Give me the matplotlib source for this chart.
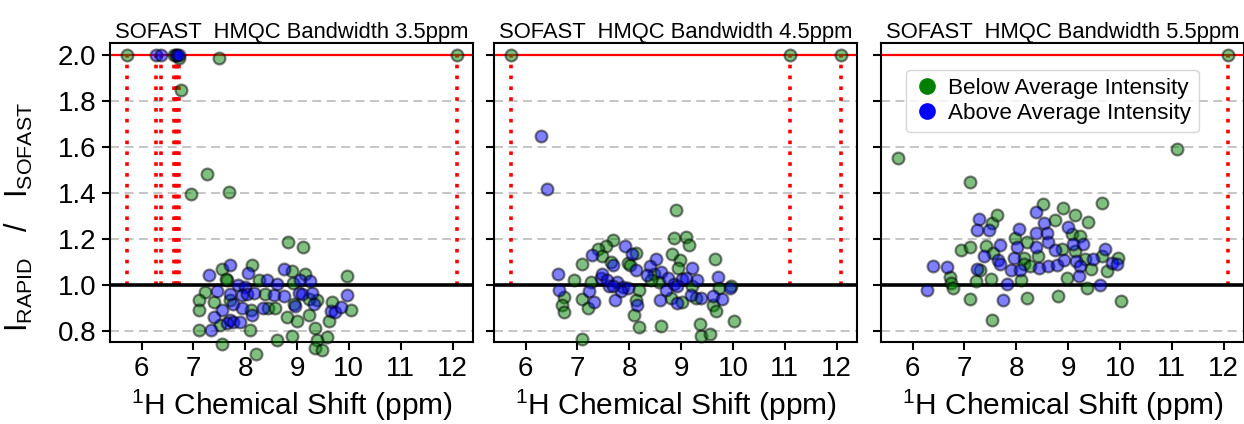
# import library
import numpy as np
import matplotlib.pyplot as plt
from matplotlib.lines import Line2D

plt.rcParams['font.family'] = ['Liberation Sans', 'DejaVu Sans']
plt.rcParams['mathtext.fontset'] = 'custom'
plt.rcParams['mathtext.rm'] = 'Liberation Sans'
plt.rcParams['mathtext.it'] = 'Liberation Sans'

# Data (ratios above 2 are shown capped at 2.0)
titles = ["SOFAST  HMQC Bandwidth 3.5ppm",
          "SOFAST  HMQC Bandwidth 4.5ppm",
          "SOFAST  HMQC Bandwidth 5.5ppm"]

# 3.5 ppm
below_x_35 = [7.56, 8.13, 7.65, 8.90, 9.16, 9.97, 8.26, 8.92, 7.23, 7.10, 7.10, 7.39, 7.70,
              8.39, 9.39, 9.23, 8.94, 9.68, 10.05, 8.11, 8.43, 8.58, 7.52, 8.81, 9.00, 9.23,
              9.61, 7.10, 8.10, 9.35, 7.55, 8.61, 8.90, 9.58, 9.39, 9.35, 9.48, 8.21, 9.11,
              7.62, 7.27, 6.95, 7.69, 8.83, 6.77, 6.73, 7.50, 5.71, 6.62, 12.09]
below_y_35 = [1.072, 1.087, 1.025, 1.062, 1.048, 1.039, 1.025, 1.010, 0.971, 0.935, 0.891, 0.928, 0.935,
              0.961, 0.935, 0.942, 0.920, 0.928, 0.894, 0.891, 0.903, 0.903, 0.826, 0.862, 0.845, 0.870,
              0.845, 0.804, 0.807, 0.812, 0.743, 0.764, 0.778, 0.775, 0.761, 0.729, 0.720, 0.700, 1.168,
              1.026, 1.485, 1.396, 1.404, 1.190, 1.850, 1.987, 1.990, 2.0, 2.0, 2.0]
above_x_35 = [7.70, 8.06, 7.31, 8.75, 9.06, 9.25, 8.42, 8.61, 7.87, 8.00, 7.45, 7.77, 7.94,
              8.03, 8.16, 8.55, 8.74, 9.03, 9.10, 9.29, 8.97, 9.32, 9.65, 9.74, 9.97, 9.84,
              7.94, 8.13, 8.35, 7.55, 7.39, 7.70, 7.65, 7.77, 7.90, 7.34, 7.71,
              6.28, 6.38, 6.66, 6.69, 6.72]
above_y_35 = [1.087, 1.054, 1.043, 1.072, 1.022, 1.019, 1.022, 1.007, 1.000, 0.993, 0.975, 0.917, 0.957,
              0.964, 0.967, 0.957, 0.952, 0.967, 0.964, 0.967, 0.909, 0.917, 0.887, 0.884, 0.957, 0.906,
              0.903, 0.870, 0.899, 0.891, 0.862, 0.848, 0.836, 0.841, 0.841, 0.804, 0.964,
              2.0, 2.0, 2.0, 2.0, 2.0]

# 4.5 ppm
below_x_45 = [7.69, 7.55, 7.39, 7.08, 7.48, 7.65, 8.13, 7.97, 8.01, 8.87, 9.10, 9.15, 8.83,
              8.98, 8.95, 9.66, 6.94, 7.26, 8.19, 8.48, 8.57, 9.21, 9.28, 9.97, 9.74, 6.75,
              6.70, 6.75, 7.08, 7.21, 8.13, 8.10, 8.19, 8.81, 9.02, 9.61, 9.68, 8.61, 9.37,
              9.39, 9.56, 10.03, 7.08, 8.42, 8.91, 5.72, 11.11, 12.08]
below_y_45 = [1.196, 1.170, 1.159, 1.094, 1.126, 1.101, 1.141, 1.097, 1.087, 1.207, 1.210, 1.174, 1.135,
              1.109, 1.075, 1.112, 1.025, 1.014, 0.978, 1.051, 1.014, 0.996, 0.946, 0.996, 0.986, 0.949,
              0.913, 0.884, 0.942, 0.899, 0.935, 0.870, 0.819, 0.946, 0.928, 0.913, 0.888, 0.822, 0.833,
              0.778, 0.790, 0.845, 0.768, 1.025, 1.326, 2.0, 2.0, 2.0]
above_x_45 = [7.28, 7.69, 7.92, 8.06, 8.13, 8.52, 8.40, 9.21, 9.71, 6.63, 7.45, 7.47, 7.61,
              7.77, 7.87, 7.97, 7.84, 8.35, 8.61, 8.74, 8.71, 8.87, 8.92, 9.02, 9.10, 9.30,
              9.19, 9.39, 9.61, 9.79, 9.95, 6.65, 7.23, 7.32, 7.73, 8.14, 8.59, 8.92, 7.58,
              7.69, 6.29, 6.41]
above_y_45 = [1.130, 1.087, 1.170, 1.138, 1.065, 1.116, 1.083, 1.075, 1.036, 1.048, 1.033, 1.051, 0.996,
              1.014, 0.993, 0.986, 0.975, 1.043, 1.058, 1.033, 0.978, 1.007, 0.996, 1.029, 1.033, 1.022,
              0.957, 0.946, 0.952, 0.942, 0.986, 0.981, 0.975, 0.928, 0.935, 0.913, 0.938, 0.923, 1.025,
              0.996, 1.649, 1.417]

# 5.5 ppm
below_x_55 = [6.72, 6.75, 6.77, 6.94, 7.11, 7.11, 7.54, 7.63, 7.42, 7.31, 7.22, 7.51, 7.56,
              7.98, 8.14, 8.14, 8.10, 8.20, 8.20, 8.26, 8.41, 8.51, 8.75, 8.90, 8.81, 8.88,
              8.97, 9.07, 9.13, 9.23, 9.13, 9.33, 9.39, 9.44, 9.37, 9.65, 9.65, 9.75, 9.97,
              10.03, 7.54, 5.71, 11.10, 7.11, 12.08]
below_y_55 = [1.036, 1.010, 0.988, 1.152, 1.167, 0.941, 1.271, 1.307, 1.170, 1.065, 1.017, 1.027, 1.140,
              1.204, 1.118, 1.094, 1.024, 1.190, 0.945, 1.082, 1.128, 1.355, 1.285, 1.338, 0.955, 1.157,
              1.032, 1.223, 1.305, 1.212, 1.147, 1.114, 1.276, 1.071, 0.988, 1.358, 1.128, 1.060, 1.118,
              0.931, 0.851, 1.554, 1.594, 1.448, 2.0]
above_x_55 = [6.28, 6.40, 6.66, 7.29, 7.25, 7.48, 7.38, 7.25, 7.65, 7.69, 7.69, 7.83, 7.74,
              7.89, 7.96, 8.01, 8.06, 8.08, 8.38, 8.44, 8.39, 8.39, 8.53, 8.59, 8.62, 8.62,
              8.75, 8.78, 8.92, 9.00, 9.10, 9.16, 9.23, 9.29, 9.22, 9.49, 9.62, 9.71, 9.84,
              9.95]
above_y_55 = [0.981, 1.083, 1.080, 1.288, 1.239, 1.239, 1.129, 1.071, 1.108, 1.176, 1.094, 1.007, 0.938,
              1.068, 1.118, 1.165, 1.243, 1.068, 1.168, 1.075, 1.320, 1.229, 1.271, 1.226, 1.190, 1.085,
              1.152, 1.089, 1.108, 1.252, 1.180, 1.104, 1.082, 1.180, 1.039, 1.114, 1.003, 1.157, 1.096,
              1.094]

panels = [(below_x_35, below_y_35, above_x_35, above_y_35),
          (below_x_45, below_y_45, above_x_45, above_y_45),
          (below_x_55, below_y_55, above_x_55, above_y_55)]

yticks = [0.8, 1.0, 1.2, 1.4, 1.6, 1.8, 2.0]
xticks = [6, 7, 8, 9, 10, 11, 12]

fig = plt.figure(figsize=(12.44, 4.24), dpi=100)
lefts = [0.0884, 0.3971, 0.7082]

for i, (bx, by, ax_, ay) in enumerate(panels):
    ax = fig.add_axes([lefts[i], 0.1927, 0.2916, 0.7052])

    # grid lines
    for yv in [0.8, 1.2, 1.4, 1.6, 1.8]:
        ax.axhline(yv, color='#c0c0c0', ls=(0, (5, 3)), lw=1.3, zorder=0)

    # capped points: red dotted drop lines
    capped = [x for x, y in zip(bx + ax_, by + ay) if y >= 2.0]
    ax.vlines(capped, 1.0, 2.0, colors='red', linestyles=(0, (1, 2)), lw=2.6, zorder=1)
    ax.axhline(2.0, color='red', lw=1.6, zorder=1)
    ax.axhline(1.0, color='black', lw=2.6, zorder=1)

    ax.scatter(bx, by, s=72, facecolor='green', edgecolor='black', alpha=0.5,
               lw=1.6, zorder=3, clip_on=False)
    ax.scatter(ax_, ay, s=72, facecolor='blue', edgecolor='black', alpha=0.5,
               lw=1.6, zorder=3, clip_on=False)

    ax.set_xlim(5.39, 12.39)
    ax.set_ylim(0.752, 2.052)
    ax.set_xticks(xticks)
    ax.set_yticks(yticks)
    ax.tick_params(labelsize=20, length=6, width=1.5, pad=4)
    if i > 0:
        ax.set_yticklabels([])
    for s in ax.spines.values():
        s.set_linewidth(1.5)

    ax.set_title(titles[i], fontsize=15.8, pad=4)
    ax.set_xlabel(r'$\mathregular{^{1}}$H Chemical Shift (ppm)', fontsize=21.5, labelpad=4)
    if i == 0:
        ax.set_ylabel(r'$\mathregular{I_{RAPID}\quad/\quad I_{SOFAST}}$', fontsize=22)
        ax.yaxis.set_label_coords(-0.207, 0.42)
    if i == 2:
        handles = [Line2D([], [], ls='none', marker='o', color='green', markersize=11),
                   Line2D([], [], ls='none', marker='o', color='blue', markersize=11)]
        ax.legend(handles, ['Below Average Intensity', 'Above Average Intensity'],
                  loc='upper left', bbox_to_anchor=(0.069, 0.911), borderaxespad=0,
                  fontsize=16.2, handletextpad=0.3, handlelength=1.2, borderpad=0.35,
                  labelspacing=0.2)

plt.savefig('out.png', dpi=100)
